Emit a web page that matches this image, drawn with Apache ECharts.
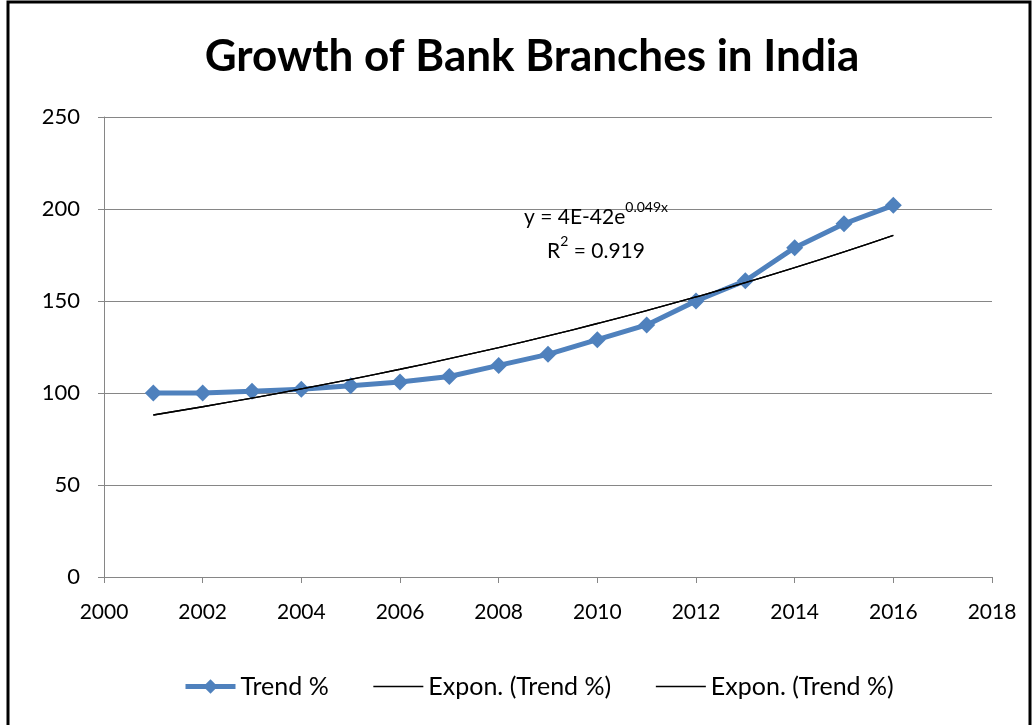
<!DOCTYPE html>
<html>
<head>
<meta charset="utf-8">
<script src="https://cdn.jsdelivr.net/npm/echarts@6/dist/echarts.min.js"></script>
<style>
  html, body { margin: 0; padding: 0; background: #fff; }
  #chart { width: 1036px; height: 725px; }
</style>
</head>
<body>
<div id="chart"></div>
<script>
// data
const years = [2001, 2002, 2003, 2004, 2005, 2006, 2007, 2008, 2009, 2010, 2011, 2012, 2013, 2014, 2015, 2016]
const trendPct = [100, 100, 101, 102, 104, 106, 109, 115, 121, 129, 137, 150, 161, 179, 192, 202]
const xTicks = [2000, 2002, 2004, 2006, 2008, 2010, 2012, 2014, 2016, 2018]
const yTicks = [0, 50, 100, 150, 200, 250]
const seriesNames = ['Trend %', 'Expon. (Trend %)', 'Expon. (Trend %) ']

// exponential fit (least squares on ln y), same as the spreadsheet trendline
const n = years.length
let sx = 0, sy = 0, sxx = 0, sxy = 0
for (let i = 0; i < n; i++) {
  const x = years[i], ly = Math.log(trendPct[i])
  sx += x; sy += ly; sxx += x * x; sxy += x * ly
}
const k = (n * sxy - sx * sy) / (n * sxx - sx * sx)
const lnA = (sy - k * sx) / n
const fitted = years.map(x => Math.exp(lnA + k * x))

const font = 'Lato, "Open Sans", sans-serif'
const chart = echarts.init(document.getElementById('chart'))

chart.setOption({
  backgroundColor: '#ffffff',
  animation: false,
  title: {
    text: 'Growth of Bank Branches in India',
    left: 527,
    top: 30,
    textAlign: 'center',
    textStyle: { fontFamily: font, fontWeight: 'bold', fontSize: 44, color: '#000' }
  },
  grid: { left: 104, right: 44, top: 117, bottom: 148 },
  legend: {
    bottom: 21,
    left: 178,
    itemWidth: 50,
    itemHeight: 18,
    itemGap: 44,
    textStyle: { fontFamily: font, fontSize: 25, color: '#000' },
    data: [
      { name: seriesNames[0], lineStyle: { width: 5 } },
      { name: seriesNames[1], itemStyle: { opacity: 0 }, lineStyle: { width: 1.3 } },
      { name: seriesNames[2], itemStyle: { opacity: 0 }, lineStyle: { width: 1.3 } }
    ]
  },
  xAxis: {
    type: 'value',
    min: xTicks[0],
    max: xTicks[xTicks.length - 1],
    interval: 2,
    axisLine: { lineStyle: { color: '#868686', width: 1 } },
    axisTick: { show: true, length: 6, lineStyle: { color: '#868686' } },
    splitLine: { show: false },
    axisLabel: { margin: 25, fontFamily: font, fontSize: 21, color: '#000', formatter: v => String(v) }
  },
  yAxis: {
    type: 'value',
    min: yTicks[0],
    max: yTicks[yTicks.length - 1],
    interval: 50,
    axisLine: { show: true, lineStyle: { color: '#868686', width: 1 } },
    axisTick: { show: true, length: 6, lineStyle: { color: '#868686' } },
    splitLine: { lineStyle: { color: '#868686', width: 1 } },
    axisLabel: { margin: 24, fontFamily: font, fontSize: 22, color: '#000' }
  },
  series: [
    {
      name: seriesNames[0],
      type: 'line',
      data: years.map((y, i) => [y, trendPct[i]]),
      symbol: 'diamond',
      symbolSize: 17,
      lineStyle: { color: '#4F81BD', width: 5 },
      itemStyle: { color: '#4F81BD' },
      z: 3
    },
    {
      name: seriesNames[1],
      type: 'line',
      data: years.map((y, i) => [y, fitted[i]]),
      symbol: 'none',
      smooth: true,
      lineStyle: { color: '#000', width: 1.3 },
      itemStyle: { color: '#000' },
      z: 4
    },
    {
      name: seriesNames[2],
      type: 'line',
      data: years.map((y, i) => [y, fitted[i]]),
      symbol: 'none',
      smooth: true,
      lineStyle: { color: '#000', width: 1.3 },
      itemStyle: { color: '#000' },
      z: 4
    }
  ],
  graphic: [
    {
      type: 'rect',
      shape: { x: 8, y: 2, width: 1022, height: 740 },
      style: { fill: null, stroke: '#000', lineWidth: 3 },
      silent: true
    },
    {
      type: 'text',
      x: 596,
      y: 200,
      z: 10,
      style: {
        text: '{a|y = 4E-42e}{s|0.049x}\n{a|R}{s|2}{a| = 0.919}',
        fill: '#000',
        align: 'center',
        rich: {
          a: { fontFamily: font, fontSize: 21, lineHeight: 34, align: 'center' },
          s: { fontFamily: font, fontSize: 14, lineHeight: 26, verticalAlign: 'top', align: 'center' }
        }
      }
    }
  ]
})
</script>
</body>
</html>
